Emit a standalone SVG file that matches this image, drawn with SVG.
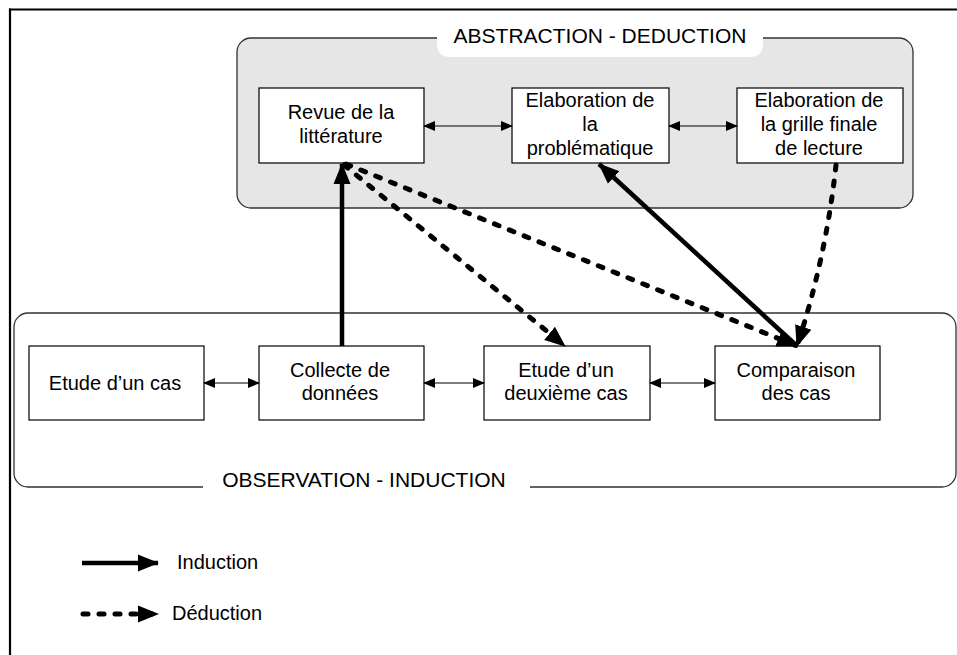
<svg xmlns="http://www.w3.org/2000/svg" width="957" height="655" viewBox="0 0 957 655">
<style>
text{font-family:"Liberation Sans",Arial,sans-serif;font-size:20px;fill:#000}
.lbl{font-size:21px}
.box{fill:#fff;stroke:#000;stroke-width:1.2}
.thin{stroke:#000;stroke-width:1.2;fill:none}
.ind{stroke:#000;stroke-width:4.5;fill:none}
.ded{stroke:#000;stroke-width:5;fill:none;stroke-dasharray:5 11;stroke-linecap:round}
</style>
<defs>
<marker id="sm" markerUnits="userSpaceOnUse" markerWidth="12" markerHeight="12" viewBox="0 0 12 12" refX="11" refY="6" orient="auto-start-reverse">
<path d="M0,1 L12,6 L0,11 Z" fill="#000"/>
</marker>
<marker id="big" markerUnits="userSpaceOnUse" markerWidth="21" markerHeight="19" viewBox="0 0 21 19" refX="20" refY="9.5" orient="auto">
<path d="M0,1 L21,9.5 L0,18 Z" fill="#000"/>
</marker>
</defs>
<g id="frame">
<line x1="9" y1="9.5" x2="957" y2="9.5" stroke="#000" stroke-width="2.2"/>
<line x1="10" y1="8.5" x2="10" y2="655" stroke="#000" stroke-width="2.2"/>
</g>
<g id="abstraction">
<rect x="237" y="38" width="676" height="170" rx="14" fill="#e6e6e6" stroke="#333" stroke-width="1.3"/>
<rect x="437" y="20" width="326" height="37" rx="12" fill="#fff"/>
<text class="lbl" x="600" y="43" text-anchor="middle">ABSTRACTION - DEDUCTION</text>
</g>
<g id="observation">
<rect x="14" y="313" width="942" height="174" rx="14" fill="none" stroke="#333" stroke-width="1.3"/>
<rect x="203" y="470" width="327" height="30" fill="#fff"/>
<text class="lbl" x="364" y="487" text-anchor="middle">OBSERVATION - INDUCTION</text>
</g>
<g id="revue">
<rect class="box" x="259" y="88" width="165" height="75"/>
<text x="341" y="119" text-anchor="middle">Revue de la</text>
<text x="341" y="143" text-anchor="middle">littérature</text>
</g>
<g id="problematique">
<rect class="box" x="512" y="88" width="157" height="75"/>
<text x="590" y="107" text-anchor="middle">Elaboration de</text>
<text x="590" y="131" text-anchor="middle">la</text>
<text x="590" y="155" text-anchor="middle">problématique</text>
</g>
<g id="grille">
<rect class="box" x="737" y="88" width="166" height="75"/>
<text x="819" y="107" text-anchor="middle">Elaboration de</text>
<text x="819" y="131" text-anchor="middle">la grille finale</text>
<text x="819" y="155" text-anchor="middle">de lecture</text>
</g>
<g id="etude1">
<rect class="box" x="29" y="346" width="175" height="74"/>
<text x="115" y="390" text-anchor="middle">Etude d’un cas</text>
</g>
<g id="collecte">
<rect class="box" x="259" y="346" width="165" height="74"/>
<text x="340" y="377" text-anchor="middle">Collecte de</text>
<text x="340" y="400" text-anchor="middle">données</text>
</g>
<g id="etude2">
<rect class="box" x="484" y="346" width="166" height="74"/>
<text x="566" y="377" text-anchor="middle">Etude d’un</text>
<text x="566" y="400" text-anchor="middle">deuxième cas</text>
</g>
<g id="comparaison">
<rect class="box" x="715" y="346" width="165" height="74"/>
<text x="796" y="377" text-anchor="middle">Comparaison</text>
<text x="796" y="400" text-anchor="middle">des cas</text>
</g>
<g id="connectors">
<line class="thin" x1="424" y1="126" x2="512" y2="126" marker-start="url(#sm)" marker-end="url(#sm)"/>
<line class="thin" x1="669" y1="126" x2="737" y2="126" marker-start="url(#sm)" marker-end="url(#sm)"/>
<line class="thin" x1="204" y1="383" x2="259" y2="383" marker-start="url(#sm)" marker-end="url(#sm)"/>
<line class="thin" x1="424" y1="383" x2="484" y2="383" marker-start="url(#sm)" marker-end="url(#sm)"/>
<line class="thin" x1="650" y1="383" x2="715" y2="383" marker-start="url(#sm)" marker-end="url(#sm)"/>
<line class="ind" x1="342" y1="346" x2="342" y2="164" marker-end="url(#big)"/>
<line class="ind" x1="797" y1="346" x2="599" y2="164" marker-end="url(#big)"/>
<line class="ded" x1="344" y1="165" x2="565" y2="346" marker-end="url(#big)"/>
<line class="ded" x1="346" y1="164" x2="797" y2="346" marker-end="url(#big)"/>
<path class="ded" d="M836,165 Q826,258 797,346" marker-end="url(#big)"/>
</g>
<g id="legend">
<line class="ind" x1="82" y1="563" x2="158" y2="563" marker-end="url(#big)"/>
<text x="177" y="569">Induction</text>
<line class="ded" x1="83" y1="614" x2="158" y2="614" marker-end="url(#big)"/>
<text x="172" y="620">Déduction</text>
</g>
</svg>
